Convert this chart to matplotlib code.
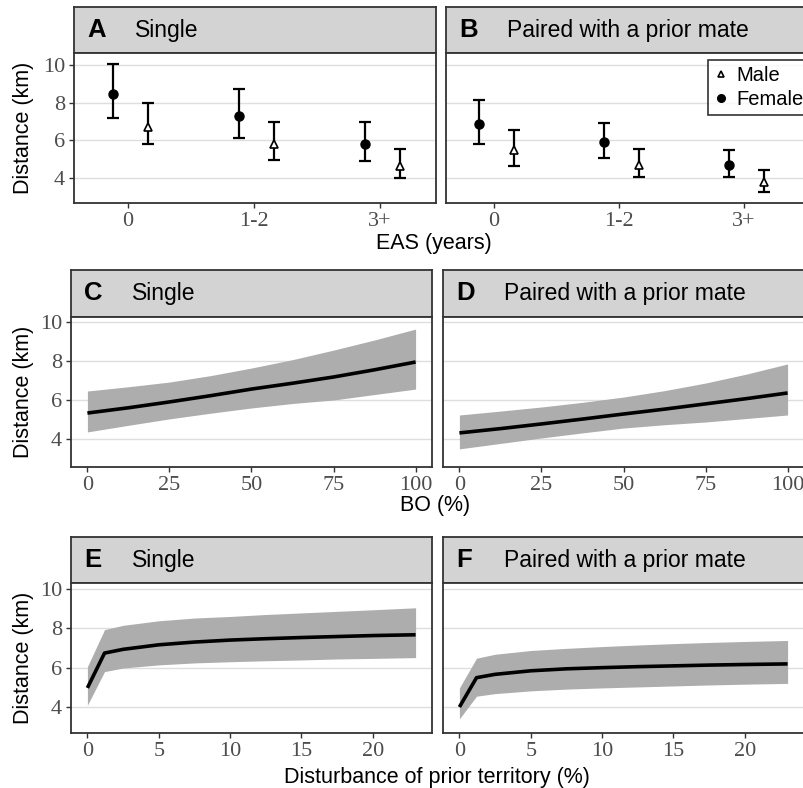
import numpy as np
import matplotlib
matplotlib.use('Agg')
import matplotlib.pyplot as plt
from matplotlib.lines import Line2D

W, H = 804, 788

# ---- row 1: EAS (categorical) ----
eas_labels = ['0', '1-2', '3+']
female_single = [8.45, 7.3, 5.8]
female_single_lo = [7.17, 6.11, 4.88]
female_single_hi = [10.05, 8.72, 6.96]
male_single = [6.7, 5.8, 4.61]
male_single_lo = [5.8, 4.93, 4.0]
male_single_hi = [8.0, 6.96, 5.52]
female_paired = [6.85, 5.89, 4.7]
female_paired_lo = [5.79, 5.04, 4.03]
female_paired_hi = [8.13, 6.9, 5.47]
male_paired = [5.47, 4.7, 3.76]
male_paired_lo = [4.61, 4.03, 3.23]
male_paired_hi = [6.53, 5.52, 4.4]

# ---- row 2: BO (%) ----
bo = [0, 12.5, 25, 37.5, 50, 62.5, 75, 87.5, 100]
bo_single = [5.33, 5.6, 5.9, 6.22, 6.56, 6.86, 7.18, 7.55, 7.95]
bo_single_hi = [6.46, 6.68, 6.92, 7.25, 7.64, 8.07, 8.56, 9.08, 9.64]
bo_single_lo = [4.36, 4.7, 5.03, 5.32, 5.59, 5.82, 6.0, 6.28, 6.56]
bo_paired = [4.31, 4.53, 4.77, 5.02, 5.28, 5.53, 5.8, 6.07, 6.36]
bo_paired_hi = [5.23, 5.43, 5.64, 5.88, 6.15, 6.48, 6.87, 7.33, 7.85]
bo_paired_lo = [3.49, 3.77, 4.05, 4.31, 4.56, 4.73, 4.87, 5.05, 5.23]

# ---- row 3: disturbance of prior territory (%) ----
dist = [0, 1.2, 2.5, 5, 7.5, 10, 12.5, 15, 17.5, 20, 23]
dist_single = [4.97, 6.74, 6.93, 7.16, 7.3, 7.4, 7.47, 7.53, 7.58, 7.63, 7.67]
dist_single_hi = [6.05, 7.93, 8.15, 8.38, 8.52, 8.6, 8.7, 8.78, 8.86, 8.94, 9.04]
dist_single_lo = [4.09, 5.8, 5.98, 6.14, 6.24, 6.3, 6.35, 6.39, 6.44, 6.47, 6.51]
dist_paired = [4.0, 5.49, 5.66, 5.84, 5.94, 6.0, 6.05, 6.09, 6.13, 6.16, 6.19]
dist_paired_hi = [4.97, 6.48, 6.68, 6.87, 6.98, 7.07, 7.15, 7.22, 7.28, 7.33, 7.38]
dist_paired_lo = [3.4, 4.55, 4.68, 4.82, 4.91, 4.97, 5.02, 5.07, 5.12, 5.16, 5.2]

SANS = 'Liberation Sans'
SERIF = 'Liberation Serif'
EDGE = '#333333'
STRIP = '#d3d3d3'
BAND = '#adadad'
GRID = '#dedede'
TICKC = '#4d4d4d'

fig = plt.figure(figsize=(W / 100, H / 100), dpi=100)


def px_axes(l, t, r, b):
    return fig.add_axes([l / W, 1 - b / H, (r - l) / W, (b - t) / H])


def panel(l, r, strip_top, top, bottom, letter, title, ylim, show_y):
    # strip on top of each panel
    s = px_axes(l, strip_top, r, top)
    s.set_facecolor(STRIP)
    s.set_xticks([])
    s.set_yticks([])
    for sp in s.spines.values():
        sp.set_color(EDGE)
        sp.set_linewidth(1.3)
    ymid = 1 - (strip_top + top) / 2 / H
    fig.text((l + 13) / W, ymid, letter, fontsize=18.5, fontweight='bold',
             family=SANS, va='center', ha='left')
    fig.text((l + 61) / W, ymid, title, fontsize=16.5, family=SANS,
             va='center', ha='left')
    # main panel
    ax = px_axes(l, top, r, bottom)
    ax.set_ylim(*ylim)
    ax.set_yticks([4, 6, 8, 10])
    ax.grid(True, axis='y', color=GRID, lw=1.0, zorder=0)
    ax.set_axisbelow(True)
    for sp in ax.spines.values():
        sp.set_color(EDGE)
        sp.set_linewidth(1.3)
    ax.tick_params(axis='both', colors=EDGE, length=3.5, width=1.0,
                   labelsize=16, labelcolor=TICKC, pad=3)
    if not show_y:
        ax.tick_params(axis='y', left=False, labelleft=False)
    return ax


def style_ticks(ax):
    for lab in ax.get_xticklabels() + ax.get_yticklabels():
        lab.set_family(SERIF)


# ---------- Row 1 ----------
xpos = np.arange(1, len(eas_labels) + 1)
d_f, d_m = -0.12, 0.16


def eas_panel(ax, fm, flo, fhi, mm, mlo, mhi, xlim):
    ax.set_xlim(*xlim)
    ax.set_xticks(xpos)
    ax.set_xticklabels(eas_labels)
    fx = xpos + d_f
    mx = xpos + d_m
    ax.errorbar(fx, fm, yerr=[np.array(fm) - flo, np.array(fhi) - fm],
                fmt='o', color='black', ms=6.5, capsize=4.5, elinewidth=1.6,
                capthick=1.6, zorder=3)
    ax.errorbar(mx, mm, yerr=[np.array(mm) - mlo, np.array(mhi) - mm],
                fmt='none', ecolor='black', capsize=4.5, elinewidth=1.6,
                capthick=1.6, zorder=3)
    ax.plot(mx, mm, '^', ms=6, mfc='white', mec='black', mew=1.2, zorder=4)
    style_ticks(ax)


axA = panel(74, 436, 7, 53, 203, 'A', 'Single', (2.67, 10.64), True)
eas_panel(axA, female_single, female_single_lo, female_single_hi,
          male_single, male_single_lo, male_single_hi, (0.571, 3.444))
axB = panel(446, 808, 7, 53, 203, 'B', 'Paired with a prior mate',
            (2.67, 10.64), False)
eas_panel(axB, female_paired, female_paired_lo, female_paired_hi,
          male_paired, male_paired_lo, male_paired_hi, (0.616, 3.51))

handles = [Line2D([], [], ls='none', marker='^', ms=5, mfc='white',
                  mec='black', mew=1.2),
           Line2D([], [], ls='none', marker='o', ms=5.5, color='black')]
leg = axB.legend(handles, ['Male', 'Female'], loc='upper left',
                 bbox_to_anchor=(0.724, 0.955), frameon=True, fancybox=False,
                 prop={'family': SANS, 'size': 14.5}, handlelength=0.7,
                 handletextpad=0.4, borderpad=0.3, labelspacing=0.25,
                 borderaxespad=0)
leg.get_frame().set_edgecolor('black')
leg.get_frame().set_linewidth(1.2)


# ---------- Rows 2 and 3 ----------
def curve_panel(ax, x, y, lo, hi, xlim, xticks):
    ax.fill_between(x, lo, hi, color=BAND, lw=0, zorder=2)
    ax.plot(x, y, color='black', lw=2.6, zorder=3, solid_capstyle='butt')
    ax.set_xlim(*xlim)
    ax.set_xticks(xticks)
    style_ticks(ax)


axC = panel(71, 432, 270, 317, 467, 'C', 'Single', (2.56, 10.26), True)
curve_panel(axC, bo, bo_single, bo_single_lo, bo_single_hi, (-5, 105),
            [0, 25, 50, 75, 100])
axD = panel(443, 804, 270, 317, 467, 'D', 'Paired with a prior mate',
            (2.56, 10.26), False)
curve_panel(axD, bo, bo_paired, bo_paired_lo, bo_paired_hi, (-5, 105),
            [0, 25, 50, 75, 100])

axE = panel(71, 432, 537, 583, 733, 'E', 'Single', (2.68, 10.3), True)
curve_panel(axE, dist, dist_single, dist_single_lo, dist_single_hi,
            (-1.15, 24.15), [0, 5, 10, 15, 20])
axF = panel(443, 804, 537, 583, 733, 'F', 'Paired with a prior mate',
            (2.68, 10.3), False)
curve_panel(axF, dist, dist_paired, dist_paired_lo, dist_paired_hi,
            (-1.15, 24.15), [0, 5, 10, 15, 20])

# ---------- axis titles ----------
for yc in [128, 392, 658]:
    fig.text(24 / W, 1 - yc / H, 'Distance (km)', rotation=90, fontsize=15.5,
             family=SANS, ha='center', va='center')
fig.text(434 / W, 1 - 243 / H, 'EAS (years)', fontsize=15.5, family=SANS,
         ha='center', va='center')
fig.text(435 / W, 1 - 505 / H, 'BO (%)', fontsize=15.5, family=SANS,
         ha='center', va='center')
fig.text(437 / W, 1 - 777 / H, 'Disturbance of prior territory (%)',
         fontsize=15.5, family=SANS, ha='center', va='center')

fig.savefig('out.png', dpi=100, facecolor='white')
